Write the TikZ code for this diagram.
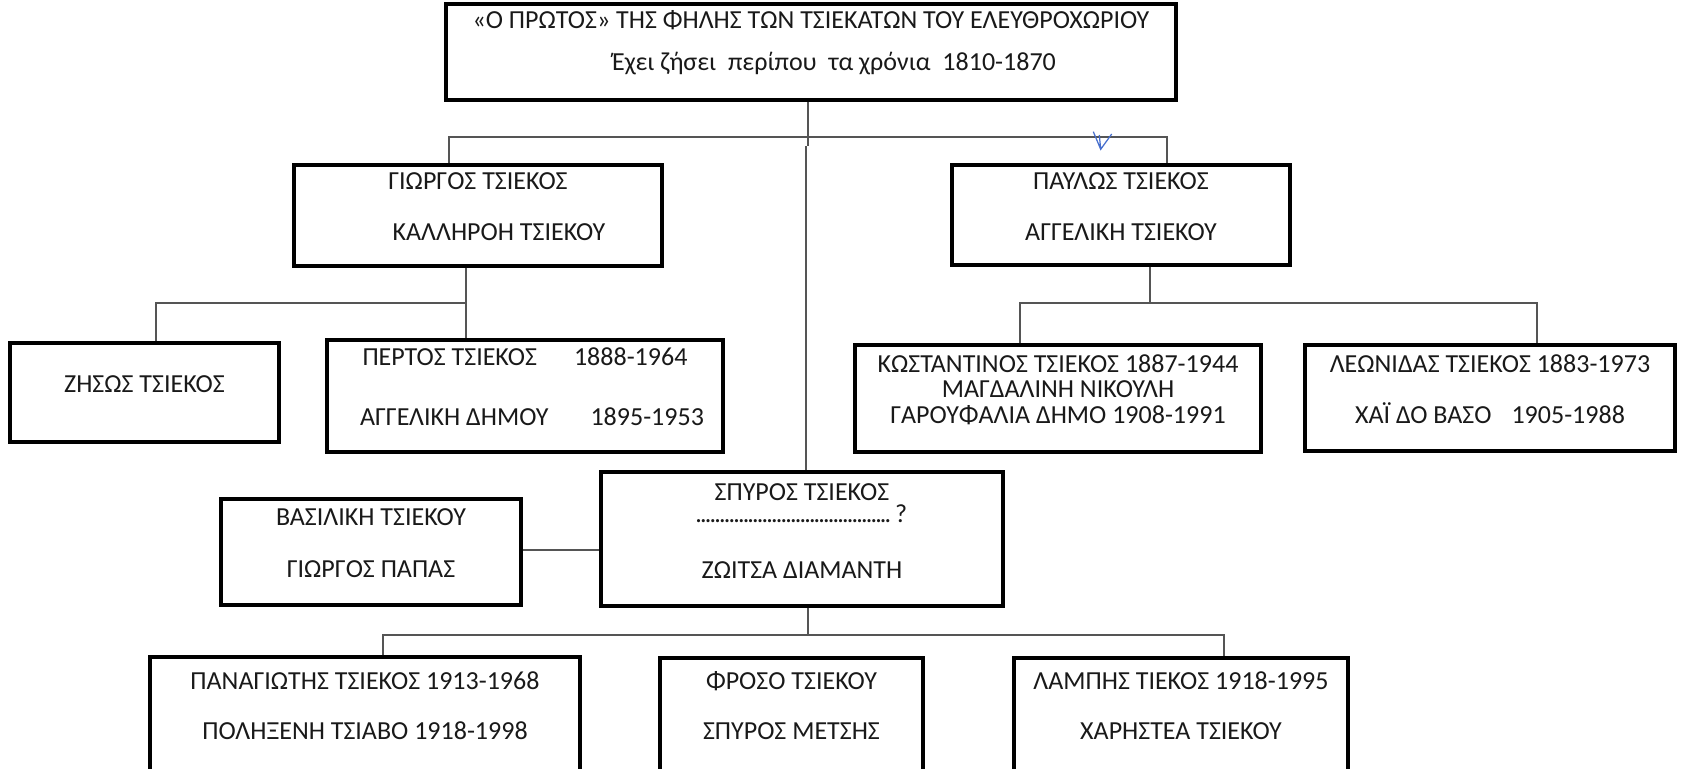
\documentclass[tikz,border=0pt]{standalone}
\usepackage{fontspec}
\setmainfont{Carlito}
\usetikzlibrary{positioning,fit}
\definecolor{famline}{RGB}{85,85,85}
\definecolor{famink}{RGB}{25,25,25}
\definecolor{penblue}{RGB}{70,110,205}
% row of dots for the unknown wife
\newcommand{\guessdots}{\leavevmode\hbox to 3.9cm{\leaders\hbox to 2.7pt{\hss.\hss}\hfill}}

\begin{document}
\begin{tikzpicture}[
    x=0.02cm, y=-0.02cm,
    person/.style={draw, line width=1.9pt, rectangle, inner sep=0pt, align=center, text=famink, font=\fontsize{14.8}{17.8}\selectfont},
    lift/.style={text depth=#1},
    link/.style={draw=famline, line width=1.1pt}
]
\useasboundingbox (0,0) rectangle (1683,768);
\fill[white] (0,0) rectangle (1683,768);
\clip (0,0) rectangle (1683,768);

% First of the line
\node[person, lift=0.44cm, fit={(446,4) (1176,100)}] (first) {«Ο ΠΡΩΤΟΣ» ΤΗΣ ΦΗΛΗΣ ΤΩΝ ΤΣΙΕΚΑΤΩΝ ΤΟΥ ΕΛΕΥΘΡΟΧΩΡΙΟΥ\\[6.1pt]\hspace*{0.92cm}Έχει ζήσει~ περίπου~ τα χρόνια~ 1810-1870};

% Sons
\node[person, fit={(294,165) (662,266)}] (giorgos) {ΓΙΩΡΓΟΣ ΤΣΙΕΚΟΣ\\[11.2pt]\hspace*{0.84cm}ΚΑΛΛΗΡΟΗ ΤΣΙΕΚΟΥ};
\node[person, fit={(952,165) (1290,265)}] (pavlos) {ΠΑΥΛΩΣ ΤΣΙΕΚΟΣ\\[11.2pt]ΑΓΓΕΛΙΚΗ ΤΣΙΕΚΟΥ};
\node[person, lift=0.24cm, fit={(601,472) (1003,606)}] (spyros) {ΣΠΥΡΟΣ ΤΣΙΕΚΟΣ\\[-4.9pt]\guessdots\,?\\[13.7pt]ΖΩΙΤΣΑ ΔΙΑΜΑΝΤΗ};
\node[person, lift=0.24cm, fit={(221,499) (521,605)}] (vasiliki) {ΒΑΣΙΛΙΚΗ ΤΣΙΕΚΟΥ\\[11.8pt]ΓΙΩΡΓΟΣ ΠΑΠΑΣ};

% Grandchildren
\node[person, fit={(10,343) (279,442)}] (zisis) {ΖΗΣΩΣ ΤΣΙΕΚΟΣ};
\node[person, fit={(327,340) (723,452)}] (pertos) {ΠΕΡΤΟΣ ΤΣΙΕΚΟΣ\hspace{0.74cm}1888-1964\\[16.3pt]\hspace*{0.28cm}ΑΓΓΕΛΙΚΗ ΔΗΜΟΥ\hspace{0.84cm}1895-1953};
\node[person, lift=0.24cm, fit={(855,345) (1261,452)}] (kostas) {ΚΩΣΤΑΝΤΙΝΟΣ ΤΣΙΕΚΟΣ 1887-1944\\[-3.3pt]ΜΑΓΔΑΛΙΝΗ ΝΙΚΟΥΛΗ\\[-3.3pt]ΓΑΡΟΥΦΑΛΙΑ ΔΗΜΟ 1908-1991};
\node[person, lift=0.22cm, fit={(1305,345) (1675,451)}] (leonidas) {ΛΕΩΝΙΔΑΣ ΤΣΙΕΚΟΣ 1883-1973\\[11.2pt]ΧΑΪ ΔΟ ΒΑΣΟ\hspace{0.4cm}1905-1988};
\node[person, lift=0.42cm, fit={(150,657) (580,772)}] (panag) {ΠΑΝΑΓΙΩΤΗΣ ΤΣΙΕΚΟΣ 1913-1968\\[10.6pt]ΠΟΛΗΞΕΝΗ ΤΣΙΑΒΟ 1918-1998};
\node[person, lift=0.42cm, fit={(660,658) (923,772)}] (froso) {ΦΡΟΣΟ ΤΣΙΕΚΟΥ\\[10.6pt]ΣΠΥΡΟΣ ΜΕΤΣΗΣ};
\node[person, lift=0.42cm, fit={(1014,658) (1348,772)}] (lampis) {ΛΑΜΠΗΣ ΤΙΕΚΟΣ 1918-1995\\[10.6pt]ΧΑΡΗΣΤΕΑ ΤΣΙΕΚΟΥ};

% Bus points
\coordinate (busL) at (449,137);
\coordinate (busR) at (1167,137);
\coordinate (stem) at (808,146);
\coordinate (trunk) at (806,146);
\coordinate (busG) at (156,303);
\coordinate (forkG) at (466,303);
\coordinate (forkP) at (1150,303);
\coordinate (busPL) at (1020,303);
\coordinate (busPR) at (1537,303);
\coordinate (wed) at (560,550);
\coordinate (forkS) at (808,635);
\coordinate (busSL) at (383,635);
\coordinate (busSR) at (1224,635);

% Lines from the first
\draw[link] (stem |- first.south) -- (stem);
\draw[link] (busL |- giorgos.north) -- (busL) -- (busR) -- (busR |- pavlos.north);
\draw[link] (trunk) -- (trunk |- spyros.north);

% Lines of Giorgos
\draw[link] (forkG |- giorgos.south) -- (forkG |- pertos.north);
\draw[link] (forkG) -- (busG) -- (busG |- zisis.north);

% Lines of Pavlos
\draw[link] (forkP |- pavlos.south) -- (forkP);
\draw[link] (busPL |- kostas.north) -- (busPL) -- (busPR) -- (busPR |- leonidas.north);

% Lines of Spyros
\draw[link] (wed -| vasiliki.east) -- (wed -| spyros.west);
\draw[link] (forkS |- spyros.south) -- (forkS);
\draw[link] (busSL |- panag.north) -- (busSL) -- (busSR) -- (busSR |- lampis.north);

% pen mark
\draw[penblue, line width=0.7pt] (1093.3,131.7) -- (1100.7,149.3) -- (1111.7,134) (1099.3,135) -- (1100.7,149.3);

\end{tikzpicture}
\end{document}
